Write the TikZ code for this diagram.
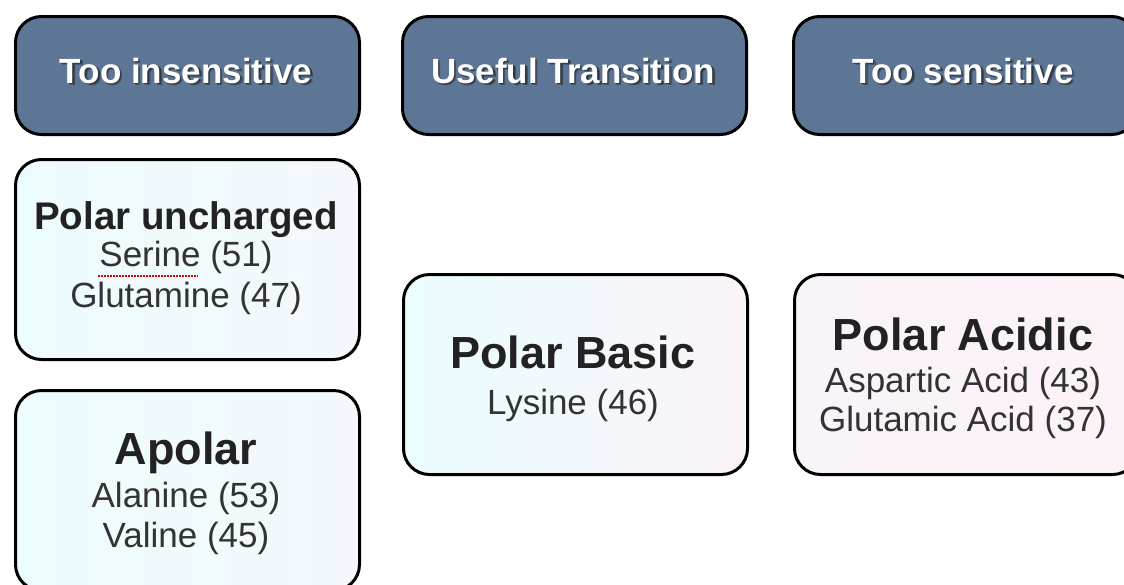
\documentclass[tikz,border=0pt]{standalone}
\usepackage{fontspec}
\setmainfont{Liberation Sans}
\definecolor{headblue}{RGB}{94,118,150}
\definecolor{shadowfar}{RGB}{70,84,104}
\definecolor{shadownear}{RGB}{48,56,68}
\definecolor{iceleft}{RGB}{237,252,254}
\definecolor{iceright}{RGB}{244,248,252}
\definecolor{midleft}{RGB}{234,253,255}
\definecolor{midright}{RGB}{251,244,249}
\definecolor{pinkleft}{RGB}{249,244,250}
\definecolor{pinkright}{RGB}{252,243,248}
\definecolor{titleink}{RGB}{34,34,34}
\definecolor{bodyink}{RGB}{51,51,51}
% white label with a soft dark drop shadow behind it
\newcommand\dropshadowed[1]{%
  \makebox[0pt][l]{\hspace{2.6pt}\raisebox{-2.6pt}{\textcolor{shadowfar}{#1}}}%
  \makebox[0pt][l]{\hspace{1.4pt}\raisebox{-1.4pt}{\textcolor{shadownear}{#1}}}%
  #1}
\begin{document}
\begin{tikzpicture}[x=1pt,y=-1pt,
  panel/.style={draw=black, line width=3pt, rounded corners=26pt,
    minimum width=344pt, minimum height=118pt, anchor=north west, inner sep=0pt},
  header/.style={panel, fill=headblue},
  catbox/.style={panel, minimum height=200pt},
  headtxt/.style={anchor=base, text=white, font=\fontsize{35}{42}\selectfont\bfseries},
  titletxt/.style={anchor=base, text=titleink, font=\fontsize{45}{52}\selectfont\bfseries},
  smalltitle/.style={anchor=base, text=titleink, font=\fontsize{38.5}{44}\selectfont\bfseries},
  bodytxt/.style={anchor=base, text=bodyink, font=\fontsize{35}{41}\selectfont},
  spellmark/.style={draw=red!85!black, line width=1.6pt, dash pattern=on 1.6pt off 1.4pt}
]
\useasboundingbox (0,0) rectangle (1124,584);
\clip (0,0) rectangle (1124,584);

% column headers
\node[header] (h1) at (14,15) {};
\node[header] (h2) at (401,15) {};
\node[header] (h3) at (792,15) {};
\node[headtxt] (t1) at (186,83) {\dropshadowed{Too insensitive}};
\node[headtxt] (t2) at (573,83) {\dropshadowed{Useful Transition}};
\node[headtxt] (t3) at (963,83) {\dropshadowed{Too sensitive}};

% category boxes
\node[catbox, left color=iceleft, right color=iceright] (pu) at (14,158) {};
\node[catbox, left color=iceleft, right color=iceright] (ap) at (14,389) {};
\node[catbox, left color=midleft, right color=midright] (pb) at (402,273) {};
\node[catbox, left color=pinkleft, right color=pinkright] (pa) at (793,273) {};

% polar uncharged
\node[smalltitle] (pu1) at (186,229) {Polar uncharged};
\node[bodytxt] (pu2) at (186,266) {Serine (51)};
\node[bodytxt] (pu3) at (186,307) {Glutamine (47)};
\coordinate (sq1) at (98,276);
\coordinate (sq2) at (198,276);
\draw[spellmark] (sq1) -- (sq2);

% apolar
\node[titletxt] (ap1) at (186,464) {Apolar};
\node[bodytxt] (ap2) at (186,507) {Alanine (53)};
\node[bodytxt] (ap3) at (186,547) {Valine (45)};

% polar basic
\node[titletxt] (pb1) at (573,368) {Polar Basic};
\node[bodytxt] (pb2) at (573,414) {Lysine (46)};

% polar acidic
\node[titletxt] (pa1) at (963,350) {Polar Acidic};
\node[bodytxt] (pa2) at (963,392) {Aspartic Acid (43)};
\node[bodytxt] (pa3) at (963,431) {Glutamic Acid (37)};
\end{tikzpicture}
\end{document}
